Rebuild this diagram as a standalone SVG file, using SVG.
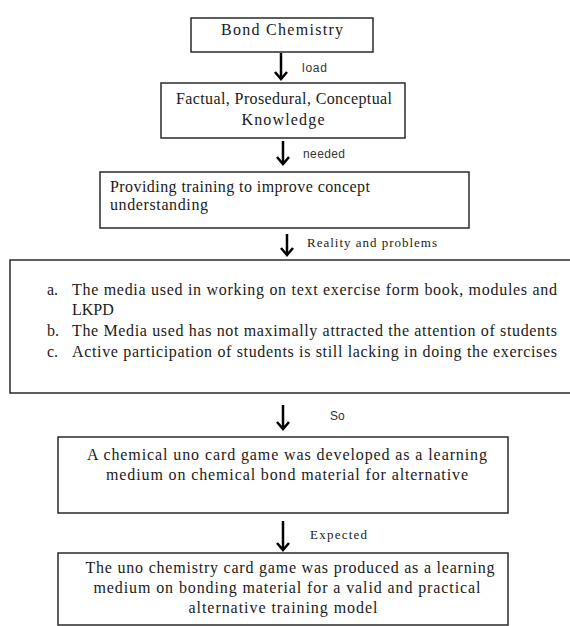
<svg xmlns="http://www.w3.org/2000/svg" width="570" height="626" viewBox="0 0 570 626">
<style>
.box{fill:#fff;stroke:#2a2a2a;stroke-width:1.5}
.t{font-family:"Liberation Serif",serif;font-size:16px;fill:#1a1a1a}
.c{text-anchor:middle}
.lb{font-family:"Liberation Sans",Arial,sans-serif;font-size:12px;fill:#333}
.ls{font-family:"Liberation Serif",serif;font-size:13px;fill:#222}
.ar{fill:none;stroke:#000;stroke-width:2.5}
</style>
<defs>
<marker id="head" markerWidth="12" markerHeight="14" refX="10" refY="7" orient="auto" markerUnits="userSpaceOnUse" viewBox="0 0 12 14">
<path d="M3,1 L10,7 L3,13" fill="none" stroke="#000" stroke-width="2.5"/>
</marker>
</defs>
<rect width="570" height="626" fill="#fff"/>
<g id="connectors">
<line class="ar" x1="281" y1="53" x2="281" y2="79" marker-end="url(#head)"/>
<line class="ar" x1="283" y1="141" x2="283" y2="164" marker-end="url(#head)"/>
<line class="ar" x1="287" y1="234" x2="287" y2="255" marker-end="url(#head)"/>
<line class="ar" x1="283" y1="405" x2="283" y2="429" marker-end="url(#head)"/>
<line class="ar" x1="283" y1="521" x2="283" y2="550" marker-end="url(#head)"/>
<text class="lb" x="302" y="72" textLength="25">load</text>
<text class="lb" x="303" y="158" textLength="42">needed</text>
<text class="ls" x="307" y="247" textLength="130">Reality and problems</text>
<text class="lb" x="330" y="420">So</text>
<text class="ls" x="310" y="539" textLength="57">Expected</text>
</g>
<g id="n1">
<rect class="box" x="191" y="18" width="182" height="34"/>
<text class="t c" x="282" y="35" textLength="122">Bond Chemistry</text>
</g>
<g id="n2">
<rect class="box" x="161" y="83" width="244" height="55"/>
<text class="t c" x="284" y="104" textLength="216">Factual, Prosedural, Conceptual</text>
<text class="t c" x="283" y="125" textLength="83">Knowledge</text>
</g>
<g id="n3">
<rect class="box" x="100" y="172" width="369" height="56"/>
<text class="t" x="110" y="192" textLength="260">Providing training to improve concept</text>
<text class="t" x="110" y="210" textLength="98">understanding</text>
</g>
<g id="n4">
<rect class="box" x="10" y="260" width="580" height="133"/>
<text class="t" x="47" y="295">a.</text>
<text class="t" x="72" y="295" textLength="485">The media used in working on text exercise form book, modules and</text>
<text class="t" x="72" y="315">LKPD</text>
<text class="t" x="47" y="336">b.</text>
<text class="t" x="72" y="336" textLength="485">The Media used has not maximally attracted the attention of students</text>
<text class="t" x="47" y="357">c.</text>
<text class="t" x="72" y="357" textLength="485">Active participation of students is still lacking in doing the exercises</text>
</g>
<g id="n5">
<rect class="box" x="58" y="437" width="450" height="76"/>
<text class="t c" x="287" y="460" textLength="400">A chemical uno card game was developed as a learning</text>
<text class="t c" x="287" y="480" textLength="362">medium on chemical bond material for alternative</text>
</g>
<g id="n6">
<rect class="box" x="58" y="553" width="450" height="72"/>
<text class="t c" x="290" y="573" textLength="409">The uno chemistry card game was produced as a learning</text>
<text class="t c" x="287" y="593" textLength="387">medium on bonding material for a valid and practical</text>
<text class="t c" x="283" y="613" textLength="189">alternative training model</text>
</g>
</svg>
